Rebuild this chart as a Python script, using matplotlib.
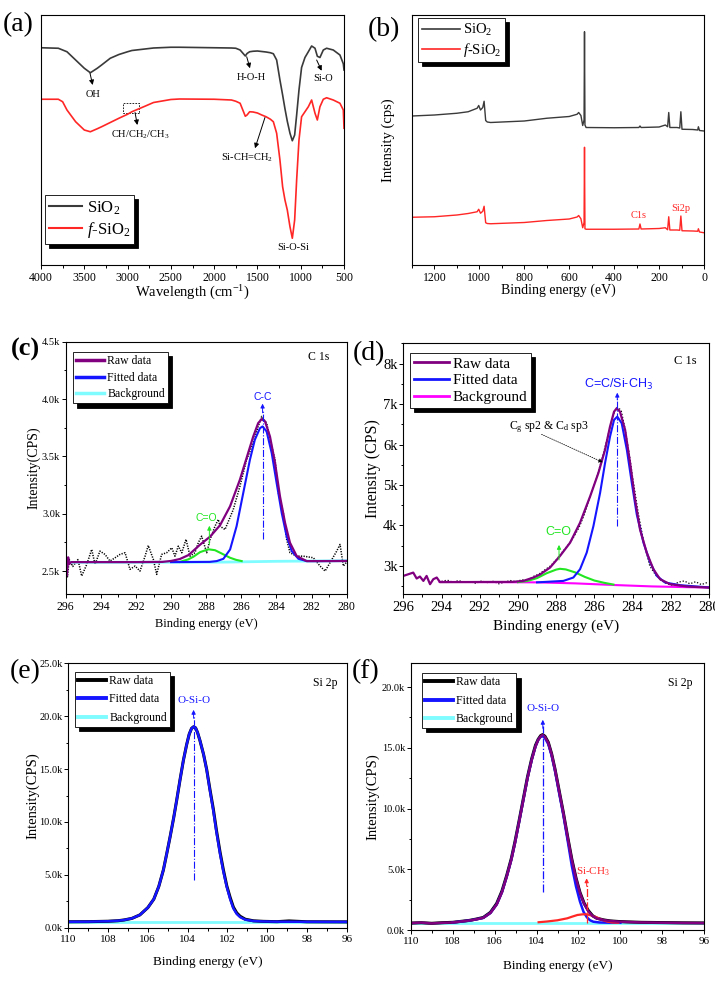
import numpy as np
import matplotlib
matplotlib.use('Agg')
import matplotlib.pyplot as plt
from matplotlib.ticker import MultipleLocator, FuncFormatter, NullLocator
from matplotlib.patches import Rectangle

plt.rcParams['font.family'] = ['Liberation Serif', 'DejaVu Serif']
plt.rcParams['mathtext.fontset'] = 'custom'
plt.rcParams['mathtext.rm'] = 'Liberation Serif'
plt.rcParams['mathtext.it'] = 'Liberation Serif:italic'
plt.rcParams['mathtext.bf'] = 'Liberation Serif:bold'

# ---------------- (a) FTIR ----------------
wn_a = [4000, 3800, 3750, 3700, 3600, 3500, 3430, 3350, 3300, 3200, 3100, 3000, 2950, 2800, 2700,
        2500, 2400, 2000, 1800, 1750, 1700, 1640, 1620, 1590, 1550, 1500, 1450, 1400, 1350, 1316,
        1278, 1240, 1209, 1182, 1155, 1124, 1097, 1070, 1047, 1020, 990, 951, 912, 874, 835, 808,
        778, 739, 701, 624, 547, 508, 500]
t_sio2 = [86.9, 86.7, 86.0, 85.3, 82.0, 78.7, 76.9, 78.7, 80.0, 82.7, 84.2, 85.3, 85.8, 86.4, 86.8,
          87.1, 87.1, 86.9, 86.8, 86.7, 86.0, 83.6, 84.6, 85.3, 85.5, 85.6, 85.4, 85.2, 84.9, 84.5,
          82.0, 74.0, 68.0, 62.5, 57.5, 52.7, 49.7, 52.0, 60.0, 70.0, 79.0, 83.0, 85.3, 87.6, 86.7, 83.5,
          83.0, 86.0, 86.7, 86.0, 84.0, 80.5, 78.0]
t_fsio2 = [66.3, 66.3, 65.3, 62.0, 57.3, 54.0, 53.3, 54.5, 55.3, 57.0, 58.7, 60.3, 61.3, 63.5, 65.0,
           66.2, 66.4, 66.3, 66.0, 65.5, 64.7, 59.5, 60.0, 61.3, 61.2, 60.8, 60.0, 59.3, 58.3, 57.3,
           52.7, 42.0, 31.3, 26.0, 22.0, 15.3, 10.7, 18.0, 34.0, 50.0, 59.3, 61.3, 63.3, 66.0, 60.7, 58.0,
           63.3, 66.3, 66.9, 66.0, 64.7, 62.0, 54.7]

# ---------------- (b) XPS survey ----------------
be_b = [1300, 1200, 1100, 1050, 1010, 1003, 995, 985, 979, 972, 965, 950, 800, 700, 600, 565, 558,
        548, 540, 534, 532, 530, 525, 400, 290, 285, 280, 200, 172, 162, 157, 152, 120, 108, 103,
        98, 50, 28, 25, 20, 0]
i_sio2 = [59.6, 60.0, 60.7, 61.3, 62.7, 63.8, 62.0, 63.0, 65.5, 57.8, 57.2, 57.0, 57.6, 58.7, 59.4,
          60.3, 61.0, 59.8, 55.8, 58.0, 93.3, 56.0, 55.0, 54.9, 55.0, 55.6, 55.0, 55.2, 56.0, 55.3,
          61.0, 55.0, 55.0, 54.8, 61.3, 54.3, 54.2, 54.0, 55.3, 53.8, 53.6]
i_fsio2 = [19.1, 19.3, 20.0, 20.6, 21.3, 22.3, 20.7, 21.5, 23.5, 16.9, 16.6, 16.5, 17.0, 17.8, 18.4,
           19.2, 19.8, 18.5, 14.9, 17.0, 47.1, 14.5, 14.3, 14.3, 14.4, 16.4, 14.4, 14.6, 14.9, 14.1,
           19.3, 14.0, 14.0, 13.9, 19.6, 13.7, 13.6, 13.5, 14.5, 13.2, 12.9]

# ---------------- (c) C 1s of SiO2 ----------------
be_c_raw = [296.0, 295.9, 295.8, 295.6, 295.3, 295.09, 294.8, 294.52, 294.33, 294.05, 293.76, 293.48,
            293.19, 292.91, 292.62, 292.34, 292.05, 291.77, 291.48, 291.30, 291.01, 290.82, 290.54,
            290.25, 289.96, 289.78, 289.59, 289.39, 289.15, 288.92, 288.64, 288.45, 288.26, 287.97,
            287.78, 287.5, 287.31, 287.21, 286.93, 286.46, 286.08, 285.70, 285.32, 285.04, 284.84,
            284.56, 284.27, 284.08, 283.89, 283.61, 283.42, 283.23, 282.85, 282.47, 281.90, 281.52,
            281.23, 280.95, 280.57, 280.38, 280.19, 280.0]
i_c_raw = [2640, 2450, 2600, 2540, 2600, 2457, 2558, 2689, 2558, 2674, 2645, 2587,
           2616, 2645, 2660, 2515, 2544, 2500, 2630, 2723, 2602, 2471, 2645,
           2660, 2703, 2630, 2717, 2660, 2776, 2630, 2660, 2747, 2804, 2660,
           2776, 2891, 2950, 2891, 2862, 3036, 3239, 3471, 3616, 3761, 3848,
           3790, 3587, 3471, 3181, 3007, 2776, 2660, 2630, 2630, 2616, 2544,
           2500, 2573, 2674, 2732, 2544, 2580]
be_c_env = [296.0, 295.93, 295.86, 295.8, 295.7, 294.0, 292.0, 290.5, 290.0, 289.5, 289.0, 288.35,
            287.78, 287.21, 286.64, 286.08, 285.70, 285.32, 285.04, 284.84, 284.65, 284.37, 284.08,
            283.80, 283.51, 283.23, 282.85, 282.28, 281.5, 280.0]
i_c_env = [2640, 2460, 2620, 2560, 2578, 2578, 2578, 2580, 2588, 2605, 2640, 2730,
           2800, 2900, 3065, 3297, 3486, 3674, 3790, 3825, 3805, 3674, 3442,
           3152, 2920, 2747, 2631, 2587, 2587, 2588]
be_c_cc = [290.0, 287.8, 287.4, 287.02, 286.64, 286.27, 285.89, 285.51, 285.23, 284.94, 284.79,
           284.56, 284.27, 283.99, 283.70, 283.42, 283.13, 282.75, 282.28, 281.5, 280.0]
i_c_cc = [2578, 2580, 2587, 2607, 2688, 2891, 3181, 3471, 3645, 3746, 3761,
          3717, 3529, 3268, 3007, 2804, 2674, 2607, 2587, 2587, 2588]
be_c_co = [289.5, 289.02, 288.73, 288.35, 287.88, 287.5, 287.21, 286.64, 286.3, 285.98]
i_c_co = [2580, 2602, 2625, 2665, 2690, 2682, 2660, 2616, 2598, 2587]
be_c_bg = [296.0, 290.0, 287.0, 284.0, 280.0]
i_c_bg = [2576, 2577, 2578, 2585, 2590]

# ---------------- (d) C 1s of f-SiO2 ----------------
be_d_env = [296.0, 295.74, 295.48, 295.30, 295.13, 294.95, 294.78, 294.60, 294.43, 294.25, 294.08,
            292.0, 290.3, 289.72, 289.19, 288.84, 288.32, 287.80, 287.27, 286.75, 286.22, 285.79,
            285.44, 285.18, 284.97, 284.83, 284.66, 284.39, 284.13, 283.87, 283.61, 283.26, 282.91,
            282.56, 282.04, 281.16, 280.0]
i_d_env = [2754, 2795, 2836, 2690, 2739, 2631, 2754, 2549, 2673, 2714, 2600,
           2604, 2606, 2631, 2714, 2790, 2960, 3246, 3575, 4067, 4721, 5297,
           5870, 6443, 6811, 6895, 6811, 6361, 5543, 4640, 3902, 3330, 2919,
           2673, 2550, 2493, 2465]
be_d_raw = [294.0, 293.7, 293.4, 293.1, 292.8, 292.5, 292.2, 291.9, 291.6, 291.3, 291.0, 290.7,
            290.4, 290.1, 289.8, 289.5, 289.2, 288.9, 288.6, 288.3, 288.0, 287.7, 287.4, 287.1,
            286.8, 286.5, 286.2, 285.9, 285.6, 285.3, 285.0, 284.8, 284.6, 284.4, 284.2, 284.0,
            283.7, 283.4, 283.1, 282.8, 282.5, 282.2, 281.9, 281.6, 281.3, 281.0, 280.7, 280.4, 280.1]
i_d_raw = [2620, 2650, 2600, 2640, 2590, 2610, 2570, 2630, 2590, 2620, 2560, 2600,
           2640, 2610, 2660, 2640, 2740, 2800, 2900, 3000, 3150, 3330, 3500, 3700,
           3950, 4300, 4750, 5150, 5650, 6200, 6750, 6920, 6850, 6400, 5850, 5200,
           4300, 3550, 3000, 2780, 2640, 2560, 2520, 2600, 2630, 2560, 2610, 2540, 2590]
be_d_cc = [289.0, 287.62, 287.10, 286.75, 286.40, 286.05, 285.70, 285.44, 285.18, 284.97, 284.80,
           284.57, 284.30, 284.04, 283.78, 283.43, 283.08, 282.73, 282.30, 281.51, 280.0]
i_d_cc = [2595, 2631, 2714, 2919, 3330, 3984, 4805, 5543, 6197, 6607, 6689,
          6526, 5870, 5051, 4271, 3575, 3084, 2754, 2591, 2525, 2470]
be_d_co = [290.0, 289.5, 289.0, 288.5, 288.0, 287.8, 287.5, 287.0, 286.5, 286.0, 285.5, 285.0]
i_d_co = [2600, 2630, 2700, 2820, 2910, 2930, 2915, 2840, 2730, 2640, 2585, 2540]
be_d_bg = [294.1, 289.0, 287.0, 285.0, 283.0, 281.0, 280.0]
i_d_bg = [2606, 2595, 2570, 2530, 2495, 2475, 2470]

# ---------------- (e) Si 2p of SiO2 ----------------
be_e = [110.0, 109.0, 108.0, 107.5, 107.2, 106.8, 106.4, 106.0, 105.7, 105.45, 105.22, 105.05, 104.88,
        104.7, 104.55, 104.38, 104.21, 104.05, 103.92, 103.8, 103.7, 103.6, 103.5, 103.38, 103.2,
        103.04, 102.88, 102.71, 102.55, 102.37, 102.2, 102.03, 101.86, 101.70, 101.53, 101.36, 101.1,
        100.69, 100.2, 99.5, 98.9, 98.0, 96.0]
i_e_raw = [560, 570, 610, 660, 730, 880, 1210, 1900, 2700, 3900, 5450, 7000, 8600,
           10400, 12050, 14000, 15850, 17300, 18300, 18850, 19000, 18900, 18450, 17700, 16400,
           14950, 13100, 11250, 9200, 7150, 5450, 3950, 2850, 1950, 1400, 1080, 800,
           650, 600, 570, 640, 560, 550]
i_e_fit = [560, 570, 610, 660, 730, 880, 1210, 1900, 2700, 3900, 5450, 7000, 8600,
           10400, 12050, 14000, 15850, 17300, 18300, 18850, 19000, 18900, 18450, 17700, 16400,
           14900, 13000, 11100, 9050, 7000, 5300, 3850, 2700, 1830, 1300, 1000, 760,
           630, 590, 570, 565, 560, 550]
be_e_bg = [110.0, 96.0]
i_e_bg = [567, 567]

# ---------------- (f) Si 2p of f-SiO2 ----------------
be_f = [110.0, 109.5, 109.0, 108.5, 108.0, 107.65, 107.2, 106.9, 106.54, 106.2, 105.9, 105.65, 105.42,
        105.2, 105.03, 104.83, 104.63, 104.43, 104.23, 104.05, 103.92, 103.8, 103.71, 103.6, 103.44,
        103.28, 103.12, 102.92, 102.72, 102.52, 102.32, 102.12, 101.93, 101.73, 101.53, 101.33,
        101.13, 100.8, 100.5, 100.1, 99.7, 99.0, 98.0, 97.0, 96.0]
i_f_env = [560, 610, 540, 590, 620, 690, 780, 870, 1000, 1400, 2100, 3100, 4400,
           5800, 7150, 8900, 10700, 12500, 14000, 15100, 15650, 15950, 16050, 15900, 15400,
           14450, 13200, 11400, 9600, 7650, 5800, 4250, 3050, 2150, 1550, 1150,
           950, 820, 740, 690, 660, 620, 600, 580, 570]
i_f_raw = [570, 600, 550, 600, 630, 700, 790, 890, 1030, 1450, 2180, 3200, 4500,
           5900, 7250, 9000, 10800, 12600, 14100, 15200, 15700, 16000, 16080, 15950, 15450,
           14500, 13250, 11450, 9650, 7700, 5850, 4300, 3100, 2200, 1600, 1180,
           970, 830, 750, 700, 670, 630, 610, 590, 580]
be_f_fit = [108.0, 107.65, 107.2, 106.9, 106.54, 106.2, 105.9, 105.65, 105.42, 105.2, 105.03, 104.83,
            104.63, 104.43, 104.23, 104.05, 103.92, 103.8, 103.71, 103.6, 103.44, 103.28, 103.12,
            102.92, 102.72, 102.52, 102.32, 102.12, 101.93, 101.76, 101.6, 101.45, 101.29, 101.0,
            100.5, 100.0]
i_f_fit = [620, 690, 780, 870, 1000, 1400, 2100, 3100, 4400, 5800, 7150, 8900,
           10700, 12500, 14000, 15100, 15650, 15900, 15950, 15800, 15300, 14350, 13100,
           11250, 9450, 7400, 5300, 3600, 2350, 1500, 1050, 800, 680, 620,
           600, 600]
be_f_sich3 = [103.9, 103.5, 103.0, 102.53, 102.3, 102.05, 101.8, 101.6, 101.4, 101.13, 100.9, 100.65,
              100.4, 100.1]
i_f_sich3 = [640, 700, 800, 964, 1100, 1236, 1290, 1290, 1200, 1044, 850, 700, 620, 600]
be_f_bg = [110.0, 96.0]
i_f_bg = [600, 600]

# ---------------- colours ----------------
C_GREY = '#3a3a3a'
C_RED = '#ff2626'
C_PURPLE = '#800080'
C_BLUE = '#1515ff'
C_CYAN = '#7ffcff'
C_GREEN = '#22e622'
C_MAG = '#ff00ff'

fig = plt.figure(figsize=(7.15, 9.81), dpi=100)
W, H = 715.0, 981.0


def add_ax(l, t, r, b):
    return fig.add_axes([l / W, 1 - b / H, (r - l) / W, (b - t) / H])


def style(ax, tick_fs, xmaj, xmin, ymaj=None, ymin=None, ytick_fs=None):
    for s in ax.spines.values():
        s.set_linewidth(0.8)
        s.set_color('black')
    ax.tick_params(which='both', direction='out', width=0.7, labelsize=tick_fs, pad=2)
    ax.tick_params(axis='y', pad=1, labelsize=ytick_fs or tick_fs)
    ax.tick_params(which='major', length=3)
    ax.tick_params(which='minor', length=1.8)
    ax.xaxis.set_major_locator(MultipleLocator(xmaj))
    ax.xaxis.set_minor_locator(MultipleLocator(xmin))
    if ymaj is None:
        ax.yaxis.set_major_locator(NullLocator())
        ax.yaxis.set_minor_locator(NullLocator())
    else:
        ax.yaxis.set_major_locator(MultipleLocator(ymaj))
        ax.yaxis.set_minor_locator(MultipleLocator(ymin))


def legend(ax, handles, labels, anchor, fs, hl, lw, ls=0.2):
    leg = ax.legend(handles, labels, loc='upper left', bbox_to_anchor=anchor, borderaxespad=0,
                    fontsize=fs, handlelength=hl, frameon=True, fancybox=False, edgecolor='black',
                    framealpha=1, shadow={'color': 'black', 'alpha': 1, 'ox': 3, 'oy': -3},
                    borderpad=0.25, labelspacing=ls, handletextpad=0.25)
    leg.get_frame().set_linewidth(0.6)
    for l in leg.get_lines():
        l.set_linewidth(lw)
    return leg


def arrow(ax, x0, y0, x1, y1, color='k', lw=0.7, ms=7, ls='-'):
    ax.annotate('', xy=(x1, y1), xytext=(x0, y0),
                arrowprops=dict(arrowstyle='-|>', color=color, lw=lw, mutation_scale=ms,
                                linestyle=ls, shrinkA=0, shrinkB=0))


kfmt1 = FuncFormatter(lambda v, p: f'{v / 1000:.1f}k')
kfmt0 = FuncFormatter(lambda v, p: f'{v / 1000:.0f}k')

# ================= (a) =================
axa = add_ax(41, 15, 344, 265)
la, = axa.plot(wn_a, t_sio2, color=C_GREY, lw=1.2)
lb, = axa.plot(wn_a, t_fsio2, color=C_RED, lw=1.2)
axa.set_xlim(4000, 500)
axa.set_ylim(0, 100)
style(axa, 8.5, 500, 250)
axa.set_xlabel('Wavelength (cm$^{-1}$)', fontsize=10.5, labelpad=0)
legend(axa, [la, lb], ['SiO$_2$', '$f$-SiO$_2$'], (0.013, 0.28), 12, 2.0, 1.5)
fa = 7.5
arrow(axa, 3434, 76.7, 3403, 72.0)
axa.text(3403, 68.3, 'OH', fontsize=fa, ha='center', va='center')
arrow(axa, 1624, 83.3, 1586, 78.7)
axa.text(1567, 75.1, 'H-O-H', fontsize=fa, ha='center', va='center')
arrow(axa, 816, 82.0, 758, 77.7)
axa.text(746, 74.7, 'Si-O', fontsize=fa, ha='center', va='center')
axa.add_patch(Rectangle((2865, 61.0), 3057 - 2865, 3.7, fill=False, ls=(0, (2, 1.5)), lw=0.6, ec='k'))
arrow(axa, 2914, 61.0, 2887, 56.0)
axa.text(2857, 52.2, 'CH/CH$_2$/CH$_3$', fontsize=fa, ha='center', va='center')
arrow(axa, 1413, 59.0, 1528, 46.7)
axa.text(1624, 43.0, 'Si-CH=CH$_2$', fontsize=fa, ha='center', va='center')
axa.text(1085, 7.1, 'Si-O-Si', fontsize=fa, ha='center', va='center')
fig.text(3 / W, 1 - 12 / H, '(a)', fontsize=20, va='top', ha='left')

# ================= (b) =================
axb = add_ax(412, 15, 704, 265)
lb1, = axb.plot(be_b, i_sio2, color=C_GREY, lw=1.0)
lb2, = axb.plot(be_b, i_fsio2, color=C_RED, lw=1.0)
axb.set_xlim(1300, 0)
axb.set_ylim(0, 100)
style(axb, 8.5, 200, 100)
axb.set_xlabel('Binding energy (eV)', fontsize=10, labelpad=0)
axb.set_ylabel('Intensity (cps)', fontsize=10.5)
axb.yaxis.set_label_coords(-0.058, 0.5)
legend(axb, [lb1, lb2], ['SiO$_2$', '$f$-SiO$_2$'], (0.021, 0.988), 10.5, 2.6, 1.2)
axb.text(290, 19.8, 'C1s', color=C_RED, fontsize=7.5, ha='center', va='center')
axb.text(104, 22.5, 'Si2p', color=C_RED, fontsize=7.5, ha='center', va='center')
fig.text(368 / W, 1 - 17 / H, '(b)', fontsize=20, va='top', ha='left')

# ================= (c) =================
axc = add_ax(65.7, 341.7, 346.7, 594)
axc.plot(be_c_raw, i_c_raw, color='k', lw=1.1, ls=(0, (0.8, 0.9)))
hc_bg, = axc.plot(be_c_bg, i_c_bg, color=C_CYAN, lw=2.0)
axc.plot(be_c_co, i_c_co, color=C_GREEN, lw=1.5)
hc_fit, = axc.plot(be_c_cc, i_c_cc, color=C_BLUE, lw=1.5)
hc_raw, = axc.plot(be_c_env, i_c_env, color=C_PURPLE, lw=1.6)
axc.set_xlim(296, 280)
axc.set_ylim(2300, 4500)
style(axc, 8.5, 2, 1, 500, 250, ytick_fs=7.5)
axc.yaxis.set_major_formatter(kfmt1)
axc.set_xlabel('Binding energy (eV)', fontsize=9, labelpad=4)
axc.set_ylabel('Intensity(CPS)', fontsize=10)
axc.yaxis.set_label_coords(-0.091, 0.5)
legend(axc, [hc_raw, hc_fit, hc_bg], ['Raw data', 'Fitted data', 'Background'], (0.026, 0.959), 8.5, 2.4, 2.5, ls=0.4)
axc.plot([284.79, 284.79], [2776, 3900], color=C_BLUE, lw=0.8, ls='-.')
arrow(axc, 284.79, 3880, 284.79, 3960, color=C_BLUE, ms=6)
axc.text(284.79, 4020, 'C-C', color=C_BLUE, fontsize=7.5, family='Liberation Sans', ha='center', va='center')
arrow(axc, 287.82, 2730, 287.82, 2895, color=C_GREEN, ms=6)
axc.text(288.0, 2965, 'C=O', color=C_GREEN, fontsize=7.5, family='Liberation Sans', ha='center', va='center')
axc.text(281.6, 4364, 'C 1s', fontsize=8.5, ha='center', va='center')
fig.text(11 / W, 1 - 338 / H, '(c)', fontsize=19, va='top', ha='left', fontweight='bold')

# ================= (d) =================
axd = add_ax(403.3, 343.3, 709, 594.3)
axd.plot(be_d_raw, i_d_raw, color='k', lw=0.9, ls=(0, (1, 1.5)))
hd_bg, = axd.plot(be_d_bg, i_d_bg, color=C_MAG, lw=1.5)
axd.plot(be_d_co, i_d_co, color=C_GREEN, lw=1.5)
hd_fit, = axd.plot(be_d_cc, i_d_cc, color=C_BLUE, lw=1.5)
hd_raw, = axd.plot(be_d_env, i_d_env, color=C_PURPLE, lw=1.6)
axd.set_xlim(296, 280)
axd.set_ylim(2300, 8500)
style(axd, 10.5, 2, 1, 1000, 500)
axd.yaxis.set_major_formatter(kfmt0)
axd.set_xlabel('Binding energy (eV)', fontsize=11, labelpad=4)
axd.set_ylabel('Intensity (CPS)', fontsize=11.5)
axd.yaxis.set_label_coords(-0.073, 0.5)
legend(axd, [hd_raw, hd_fit, hd_bg], ['Raw data', 'Fitted data', 'Background'], (0.022, 0.961), 11, 2.3, 2.0)
axd.plot([284.8, 284.8], [3990, 7150], color=C_BLUE, lw=0.8, ls='-.')
arrow(axd, 284.8, 7100, 284.8, 7280, color=C_BLUE, ms=6)
axd.text(284.75, 7480, 'C=C/Si-CH$_3$', color=C_BLUE, fontsize=9, family='Liberation Sans',
         math_fontfamily='dejavusans', ha='center', va='center')
axd.text(288.4, 6420, 'C$_\\mathrm{g}$ sp2 & C$_\\mathrm{d}$ sp3', fontsize=8.5, ha='center', va='center')
arrow(axd, 288.76, 6250, 285.55, 5560, lw=0.6, ls=':', ms=6)
arrow(axd, 287.85, 3150, 287.85, 3520, color=C_GREEN, ms=6)
axd.text(287.9, 3830, 'C=O', color=C_GREEN, fontsize=9, family='Liberation Sans', ha='center', va='center')
axd.text(281.25, 8066, 'C 1s', fontsize=9, ha='center', va='center')
fig.text(353 / W, 1 - 341 / H, '(d)', fontsize=20, va='top', ha='left')

# ================= (e) =================
axe = add_ax(68.3, 663.3, 346.7, 927.7)
he_bg, = axe.plot(be_e_bg, i_e_bg, color=C_CYAN, lw=2.0)
he_raw, = axe.plot(be_e, i_e_raw, color='k', lw=2.2)
he_fit, = axe.plot(be_e, i_e_fit, color=C_BLUE, lw=1.8)
axe.set_xlim(110, 96)
axe.set_ylim(0, 25000)
style(axe, 8, 2, 1, 5000, 2500, ytick_fs=7.5)
axe.yaxis.set_major_formatter(kfmt1)
axe.set_xlabel('Binding energy (eV)', fontsize=9.5, labelpad=9)
axe.set_ylabel('Intensity(CPS)', fontsize=10.5)
axe.yaxis.set_label_coords(-0.103, 0.5)
legend(axe, [he_raw, he_fit, he_bg], ['Raw data', 'Fitted data', 'Background'], (0.024, 0.968), 8.5, 2.4, 2.8, ls=0.55)
axe.plot([103.7, 103.7], [4510, 20000], color=C_BLUE, lw=0.8, ls='-.')
arrow(axe, 103.7, 19800, 103.7, 20600, color=C_BLUE, ms=6)
axe.text(103.7, 21500, 'O-Si-O', color=C_BLUE, fontsize=8, ha='center', va='center')
axe.text(97.1, 23100, 'Si 2p', fontsize=8.5, ha='center', va='center')
fig.text(10 / W, 1 - 659 / H, '(e)', fontsize=20, va='top', ha='left')

# ================= (f) =================
axf = add_ax(410.7, 662.7, 704.3, 930)
hf_bg, = axf.plot(be_f_bg, i_f_bg, color=C_CYAN, lw=2.0)
hf_raw, = axf.plot(be_f, i_f_raw, color='k', lw=2.2)
hf_fit, = axf.plot(be_f_fit, i_f_fit, color=C_BLUE, lw=1.8)
axf.plot(be_f_sich3, i_f_sich3, color=C_RED, lw=1.6)
axf.plot(be_f, i_f_env, color=C_PURPLE, lw=1.8)
axf.set_xlim(110, 96)
axf.set_ylim(0, 22000)
style(axf, 8, 2, 1, 5000, 2500, ytick_fs=7.5)
axf.yaxis.set_major_formatter(kfmt1)
axf.set_xlabel('Binding energy (eV)', fontsize=9.5, labelpad=10)
axf.set_ylabel('Intensity(CPS)', fontsize=10.5)
axf.yaxis.set_label_coords(-0.106, 0.5)
legend(axf, [hf_raw, hf_fit, hf_bg], ['Raw data', 'Fitted data', 'Background'], (0.037, 0.960), 8.5, 2.4, 2.8, ls=0.55)
axf.plot([103.7, 103.7], [3160, 16800], color=C_BLUE, lw=0.9, ls='-.')
arrow(axf, 103.7, 16600, 103.7, 17300, color=C_BLUE, ms=6)
axf.text(103.7, 18264, 'O-Si-O', color=C_BLUE, fontsize=8, ha='center', va='center')
axf.plot([101.61, 101.61], [550, 3700], color=C_RED, lw=0.9, ls='-.')
arrow(axf, 101.61, 3600, 101.61, 4250, color=C_RED, ms=6)
axf.text(101.3, 4800, 'Si-CH$_3$', color=C_RED, fontsize=8, ha='center', va='center')
axf.text(97.16, 20330, 'Si 2p', fontsize=8.5, ha='center', va='center')
fig.text(352 / W, 1 - 659 / H, '(f)', fontsize=20, va='top', ha='left')

fig.savefig('out.png', dpi=100)
